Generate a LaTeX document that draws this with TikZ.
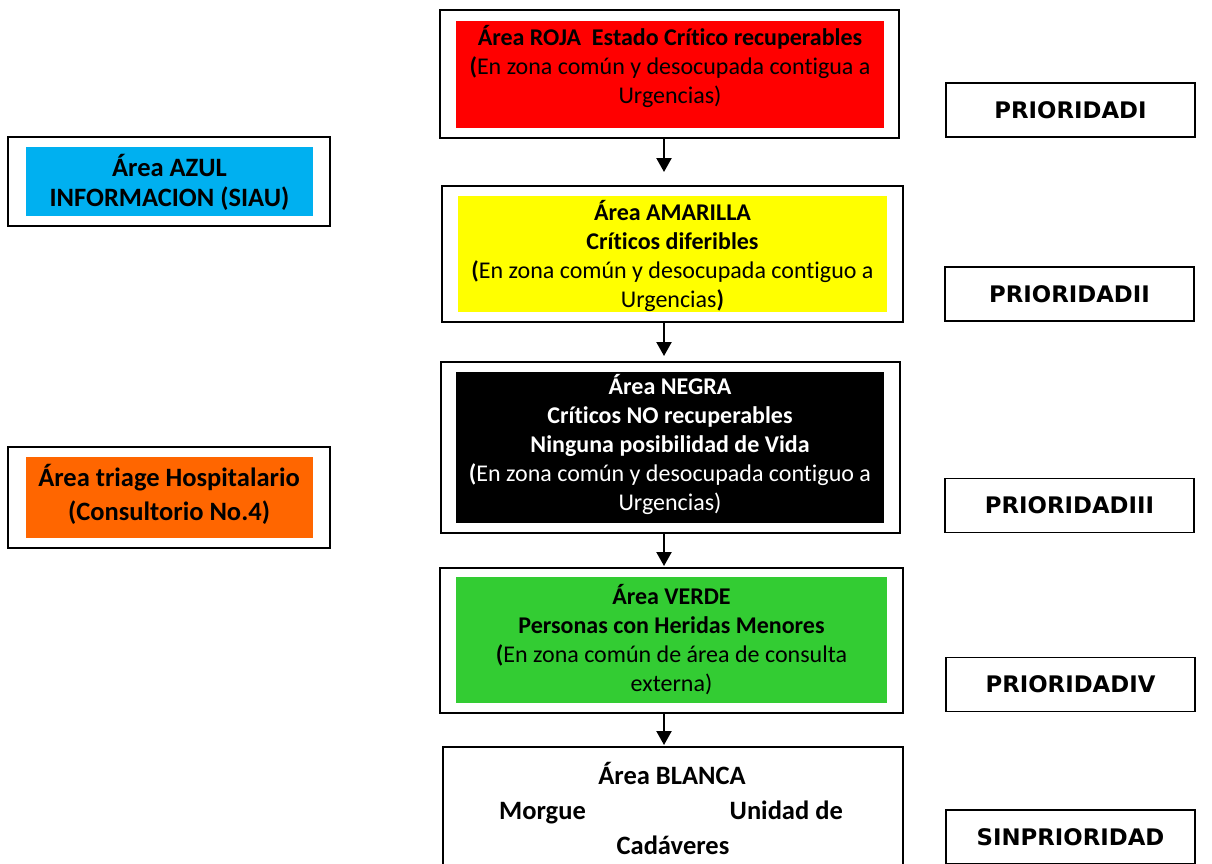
\documentclass[tikz,border=0pt]{standalone}
\usepackage{fontspec}
\setmainfont{Carlito}[Ligatures=NoCommon]
\newfontfamily\priofont{DejaVu Sans}
\usetikzlibrary{arrows.meta}
\definecolor{cRoja}{HTML}{FF0000}
\definecolor{cAmarilla}{HTML}{FFFF00}
\definecolor{cVerde}{HTML}{33CC33}
\definecolor{cAzul}{HTML}{00B0F0}
\definecolor{cNaranja}{HTML}{FF6600}
\tikzset{
  outerbox/.style={draw=black, line width=2pt, inner sep=0pt},
  fillbox/.style={inner sep=0pt},
  txt/.style={inner sep=0pt, align=center, font=\fontsize{24}{28.8}\selectfont},
  sidetxt/.style={inner sep=0pt, align=center, font=\bfseries\fontsize{26.5}{30}\selectfont},
  priobox/.style={draw=black, line width=1.6pt, inner sep=0pt, minimum width=249pt, minimum height=54pt,
    font=\priofont\bfseries\fontsize{22.8}{27}\selectfont},
  flowarrow/.style={line width=2.2pt, -{Triangle[width=15pt,length=14pt]}},
  btxt/.style={inner sep=0pt, anchor=base, font=\bfseries\fontsize{26.5}{32}\selectfont}
}
\begin{document}
\begin{tikzpicture}[x=1pt,y=-1pt]
\clip (0,0) rectangle (1212,863);
\fill[white] (0,0) rectangle (1212,863);

% central column
\node[outerbox, minimum width=459pt, minimum height=128pt] (roja) at (669.5,74) {};
\node[fillbox, fill=cRoja, minimum width=428pt, minimum height=107pt] (rojaf) at (670,74.5) {};
\node[txt] (rojat) at (670,66.5)
  {\textbf{Área ROJA\ \ Estado Crítico recuperables}\\\textbf{(}En zona común y desocupada contigua a\\Urgencias)};

\node[outerbox, minimum width=461pt, minimum height=136pt] (amarilla) at (672.5,254) {};
\node[fillbox, fill=cAmarilla, minimum width=429pt, minimum height=116pt] (amarillaf) at (672.5,254) {};
\node[txt] (amarillat) at (672.5,256)
  {\textbf{Área AMARILLA}\\\textbf{Críticos diferibles}\\\textbf{(}En zona común y desocupada contiguo a\\Urgencias\textbf{)}};

\node[outerbox, minimum width=459pt, minimum height=171pt] (negra) at (670.5,447.5) {};
\node[fillbox, fill=black, minimum width=428pt, minimum height=151pt] (negraf) at (670,447.5) {};
\node[txt, text=white] (negrat) at (670,444.5)
  {\textbf{Área NEGRA}\\\textbf{Críticos NO recuperables}\\\textbf{Ninguna posibilidad de Vida}\\\textbf{(}En zona común y desocupada contiguo a\\Urgencias)};

\node[outerbox, minimum width=463pt, minimum height=145pt] (verde) at (671.5,640.5) {};
\node[fillbox, fill=cVerde, minimum width=431pt, minimum height=126pt] (verdef) at (671.5,640) {};
\node[txt] (verdet) at (671.5,639.5)
  {\textbf{Área VERDE}\\\textbf{Personas con Heridas Menores}\\\textbf{(}En zona común de área de consulta\\externa)};

\node[outerbox, minimum width=460pt, minimum height=140pt] (blanca) at (673,817) {};
\node[btxt] (blanca1) at (672,784) {Área BLANCA};
\node[btxt, anchor=base west] (blanca2) at (499,819) {Morgue};
\node[btxt, anchor=base east] (blanca3) at (843,819) {Unidad de};
\node[btxt] (blanca4) at (673,854) {Cadáveres};

% arrows
\draw[flowarrow, shorten >=13pt] (roja.south -| 664,0) -- (amarilla.north -| 664,0);
\draw[flowarrow, shorten >=5pt] (amarilla.south -| 664,0) -- (negra.north -| 664,0);
\draw[flowarrow, shorten >=1pt] (negra.south -| 664,0) -- (verde.north -| 664,0);
\draw[flowarrow, shorten >=1pt] (verde.south -| 664,0) -- (blanca.north -| 664,0);

% left boxes
\node[outerbox, minimum width=322pt, minimum height=89pt] (azul) at (169,181.5) {};
\node[fillbox, fill=cAzul, minimum width=287pt, minimum height=69pt] (azulf) at (169.5,181.5) {};
\node[sidetxt] (azult) at (169.5,182) {Área AZUL\\INFORMACION (SIAU)};

\node[outerbox, minimum width=322pt, minimum height=101pt] (triage) at (169,497.5) {};
\node[fillbox, fill=cNaranja, minimum width=287pt, minimum height=81pt] (triagef) at (169.5,497.5) {};
\node[sidetxt, font=\bfseries\fontsize{26.5}{34}\selectfont] (triaget) at (169,494)
  {Área triage Hospitalario\\(Consultorio No.4)};

% priority boxes
\node[priobox] (p1) at (1070.5,110) {PRIORIDADI};
\node[priobox] (p2) at (1069.5,294) {PRIORIDADII};
\node[priobox] (p3) at (1069.5,505.5) {PRIORIDADIII};
\node[priobox] (p4) at (1070.5,684.5) {PRIORIDADIV};
\node[priobox] (p5) at (1070.5,837) {SINPRIORIDAD};
\end{tikzpicture}
\end{document}
